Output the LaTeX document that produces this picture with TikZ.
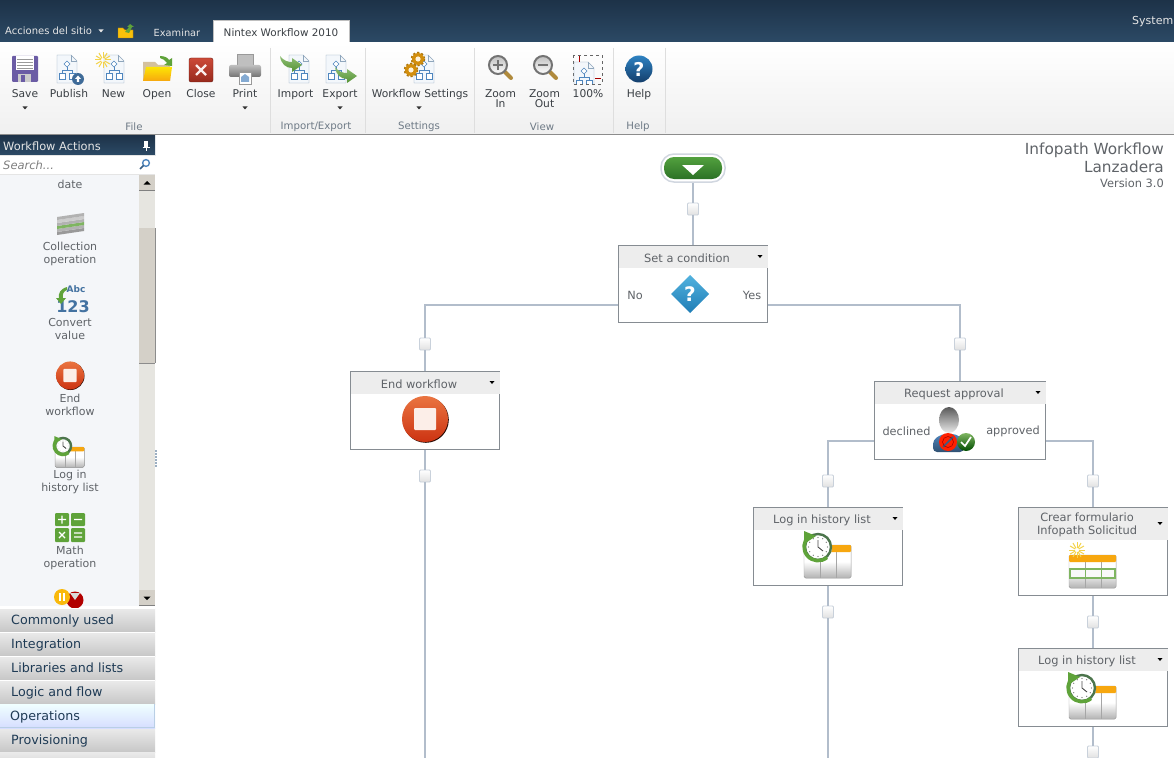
\documentclass[tikz,border=0pt]{standalone}
\usepackage{fontspec}
\setmainfont{DejaVu Sans}
\usetikzlibrary{calc}

\definecolor{barTop}{HTML}{1D3248}
\definecolor{barBot}{HTML}{2C4A66}
\definecolor{wireCol}{HTML}{B2BDCB}
\definecolor{boxLine}{HTML}{868C92}
\definecolor{headCol}{HTML}{EDEDED}
\definecolor{txtCol}{HTML}{5F6368}
\definecolor{ribbonTxt}{HTML}{3A3F44}
\definecolor{groupTxt}{HTML}{6E7A86}
\definecolor{panelCol}{HTML}{F4F6F9}
\definecolor{thumbCol}{HTML}{D4D0C8}
\definecolor{hatchCol}{HTML}{E6E5E0}
\definecolor{flowBlue}{HTML}{4F86BE}
\definecolor{docLine}{HTML}{8FA6BC}
\definecolor{docFill}{HTML}{F3F7FB}
\definecolor{arrowGreen}{HTML}{5FA33A}
\definecolor{orangeCol}{HTML}{F7A70F}
\definecolor{sunCol}{HTML}{F3D34A}
\definecolor{stopHi}{HTML}{EA7440}
\definecolor{stopLo}{HTML}{CC3312}
\definecolor{btnTxt}{HTML}{1F3B55}
\definecolor{diskCol}{HTML}{6B5CA5}
\definecolor{closeHi}{HTML}{CC4A38}
\definecolor{closeLo}{HTML}{98291C}
\definecolor{handleCol}{HTML}{B08A3C}
\definecolor{startHi}{HTML}{52A03E}
\definecolor{startLo}{HTML}{2C7226}
\definecolor{helpHi}{HTML}{2F82C2}
\definecolor{helpLo}{HTML}{143E6B}
\definecolor{diaHi}{HTML}{52B2DE}
\definecolor{diaLo}{HTML}{1F7DB6}

\tikzset{
  uitext/.style={inner sep=0pt, font=\fontsize{11}{13}\selectfont,
    execute at begin node=\rule{0pt}{9pt}, execute at end node=\rule[-1pt]{0pt}{1pt}},
  ribbonlabel/.style={uitext, text=ribbonTxt, align=center, font=\fontsize{10.7}{10}\selectfont},
  grouplabel/.style={uitext, text=groupTxt, font=\fontsize{10.2}{12}\selectfont},
  panellabel/.style={uitext, text=txtCol, align=center},
  wftitle/.style={uitext, text=txtCol, align=center, font=\fontsize{11.4}{13}\selectfont},
  wfside/.style={uitext, text=txtCol, font=\fontsize{11.3}{13}\selectfont},
  btnlabel/.style={uitext, text=btnTxt, anchor=west, font=\fontsize{12.7}{14}\selectfont},
  wire/.style={draw=wireCol, line width=2pt},
  wfnode/.style={draw=boxLine, fill=white, line width=1pt, inner sep=0pt},
  addbox/.style={draw=wireCol!70, top color=white, bottom color=black!12, rounded corners=1pt,
    minimum width=11pt, minimum height=12pt, inner sep=0pt, line width=.8pt},
  % small icons
  flowdoc/.pic={
    \fill[docFill, draw=docLine] (-10,-14) -- (4,-14) -- (10,-8) -- (10,14) -- (-10,14) -- cycle;
    \draw[docLine] (4,-14) -- (4,-8) -- (10,-8);
    \draw[flowBlue] (0,-2) -- (0,1) (-5,4) -- (-5,1) -- (5,1) -- (5,4);
    \draw[flowBlue, fill=white] (0,-8) -- (3,-5) -- (0,-2) -- (-3,-5) -- cycle;
    \draw[flowBlue, fill=white] (-8,4) rectangle (-2,10);
    \draw[flowBlue, fill=white] (2,4) rectangle (8,10);
  },
  sunburst/.pic={
    \foreach \a in {0,30,...,330} \draw[sunCol, line width=1pt] (\a:2) -- (\a:8);
  },
  bentarrow/.pic={
    \shade[top color=arrowGreen!70, bottom color=arrowGreen!90!black]
      (0,0) .. controls (4,5) and (8,6) .. (12,6) -- (12,2) -- (22,9) -- (12,16) -- (12,12)
      .. controls (6,12) and (1,8) .. (0,0) -- cycle;
  },
  gear/.pic={
    \draw[orangeCol!70!black, line width=2.5pt, dash pattern=on 2pt off 1.9pt] (0,0) circle[radius=6];
    \fill[orangeCol!85!black] (0,0) circle[radius=6];
    \fill[white!85!orangeCol] (0,0) circle[radius=2.6];
  },
  magnify/.pic={
    \draw[line width=4pt, draw=handleCol, line cap=round] (6,6) -- (13,13);
    \fill[top color=black!25, bottom color=white, draw=black!55, line width=2pt] (0,0) circle[radius=9];
  },
  stopicon/.pic={
    \fill[black!80!stopLo] (.8,.8) circle[radius=23];
    \shade[top color=stopHi, bottom color=stopLo] (0,0) circle[radius=23];
    \fill[white!88!stopHi, rounded corners=1pt] (-11,-11) rectangle (11,11);
  },
  listtable/.pic={
    \fill[top color=white, bottom color=black!30, middle color=white, draw=black!35, rounded corners=1.5pt] (-24,0) rectangle (23,33);
    \draw[black!35] (-8,4) -- (-8,33) (8,4) -- (8,33);
    \fill[orangeCol, rounded corners=1pt] (-24,0) rectangle (23,7);
  },
  clockicon/.pic={
    \fill[white] (0,0) circle[radius=14];
    \draw[black!60!green!40!gray, line width=2.4pt] (0,0) circle[radius=13];
    \draw[arrowGreen, line width=3.5pt] (-9,-11) arc[start angle=-130, end angle=-310, radius=14];
    \fill[arrowGreen] (-14,-16) -- (-14,-3) -- (-2,-11) -- cycle;
    \draw[black!70, line width=.9pt] (0,-7) -- (0,0) -- (5,4);
    \foreach \a in {0,30,...,330} \fill[black!60] (\a:9.5) circle[radius=.6];
  },
}

\newcommand{\wfbox}[7]{% name, centre x, centre y, width, height, header height, title
  \node[wfnode, minimum width=#4pt-1pt, minimum height=#5pt-1pt] (#1) at (#2,#3) {};
  \fill[headCol] ($(#1.north west)+(.5,.5)$) rectangle ($(#1.north east)+(-.5,#6)$);
  \node[wftitle] (#1title) at ($(#1.north)+(-6,#6/2+1.5)$) {#7};
  \fill[black] ($(#1.north east)+(-10.5,#6/2-1.5)$) -- ++(5,0) -- ++(-2.5,3) -- cycle;
}
\newcommand{\droparrow}[2]{\fill[black!80] (#1-2.5,#2-1.5) -- ++(5,0) -- ++(-2.5,3) -- cycle;}

\begin{document}
\begin{tikzpicture}[x=1pt,y=-1pt]
  \clip (0,0) rectangle (1174,757);
  \fill[white] (0,0) rectangle (1174,757);

  % Top bar
  \shade[top color=barTop, bottom color=barBot] (0,0) rectangle (1174,43);
  \fill[white] (213,20) rectangle (349,44);
  \draw[black!25] (213,43) -- (213,20) -- (349,20) -- (349,43);
  \node[uitext, text=white!90!black, anchor=west, font=\fontsize{10}{12}\selectfont] (sitemenu) at (5,31) {Acciones del sitio};
  \fill[white!90!black] (98.5,29.5) -- ++(5,0) -- ++(-2.5,3) -- cycle;
  \fill[orangeCol!70!yellow, draw=orangeCol!70!black] (118,28) -- (123,28) -- (125,30) -- (133,30) -- (133,38) -- (118,38) -- cycle;
  \fill[arrowGreen] (125,32) -- (129,27) -- (127,27) -- (130,24) -- (134,27) -- (132,27) -- (129,33) -- cycle;
  \node[uitext, text=white!90!black, font=\fontsize{9.8}{12}\selectfont] (browsetab) at (177,33) {Examinar};
  \node[uitext, text=ribbonTxt, font=\fontsize{10.4}{12}\selectfont] (nintextab) at (281,33) {Nintex Workflow 2010};
  \node[uitext, text=white!90!black, anchor=west] (sysuser) at (1132,21) {System};

  % Ribbon
  \shade[top color=white, bottom color=black!6] (0,43) rectangle (1174,134);
  \fill[black!45] (0,134) rectangle (1174,135);
  \foreach \x in {270,365,474,613,665} \draw[black!13] (\x,48) -- (\x,133);
  \foreach \x/\y/\lab/\id in {25/94/Save/save, 69/94/Publish/publish, 113.5/94/New/new, 157/94/Open/open,
      201/94/Close/close, 245/94/Print/print, 295.5/94/Import/import, 340/94/Export/export,
      420/94/Workflow Settings/settings, 500.5/99/Zoom\\In/zoomin, 544.5/99/Zoom\\Out/zoomout,
      588/94/100\%/full, 639/94/Help/help}
    \node[ribbonlabel] (lab\id) at (\x,\y) {\lab};
  \foreach \x/\lab/\id in {134/File/file, 316/{Import/Export}/impexp, 419/Settings/setgroup, 542/View/view, 638/Help/helpgroup}
    \node[grouplabel] (group\id) at (\x,126) {\lab};
  \droparrow{25}{108}
  \droparrow{245}{108}
  \droparrow{340}{108}
  \droparrow{419}{108}

  % Ribbon icons
  \fill[diskCol, rounded corners=1pt] (12,56) rectangle (38,82);
  \fill[white] (16,56) rectangle (34,70);
  \foreach \y in {59,62,65,68} \draw[black!40, line width=.6pt] (17,\y) -- (33,\y);
  \fill[black!20] (18,74) rectangle (31,82);
  \fill[diskCol] (21,75) rectangle (25,82);
  \pic at (67,69) {flowdoc};
  \fill[flowBlue!80!black] (78,79) circle[radius=6];
  \fill[white] (78,75.5) -- (81,79) -- (79.2,79) -- (79.2,82) -- (76.8,82) -- (76.8,79) -- (75,79) -- cycle;
  \pic at (114,69) {flowdoc};
  \pic at (103,60) {sunburst};
  \fill[orangeCol!60!black!40] (143,62) -- (155,62) -- (158,65) -- (170,65) -- (170,81) -- (143,81) -- cycle;
  \shade[top color=yellow!70!orangeCol, bottom color=orangeCol] (143,81) -- (146,67) -- (172,67) -- (170,81) -- cycle;
  \fill[arrowGreen] (160,56) .. controls (165,56) and (168,58) .. (169,60) -- (172,58) -- (172,66) -- (164,65) -- (167,63) .. controls (165,60) and (163,59) .. (160,58) -- cycle;
  \shade[top color=closeHi, bottom color=closeLo, rounded corners=2pt, draw=closeLo!70!black] (189,58) rectangle (213,82);
  \draw[white!90!closeHi, line width=2.4pt] (196,65) -- (206,75) (206,65) -- (196,75);
  \fill[black!25, draw=black!40] (237,54) rectangle (253,66);
  \shade[top color=black!25, bottom color=black!55, rounded corners=2pt] (229,65) rectangle (261,77);
  \fill[white, draw=black!40] (239,72) rectangle (251,84);
  \fill[flowBlue!70] (241,77) -- (245,74) -- (249,77) -- (249,82) -- (241,82) -- cycle;
  \pic at (299,69) {flowdoc};
  \pic at (280,56) {bentarrow};
  \pic at (336,69) {flowdoc};
  \pic at (335,67) {bentarrow};
  \pic at (424,69) {flowdoc};
  \pic at (418,59) {gear};
  \pic at (411,70) {gear};
  \pic at (498,65) {magnify};
  \fill[black!55] (493,64) rectangle (503,66.5);
  \fill[black!55] (496.7,60) rectangle (499.3,70);
  \pic at (543,65) {magnify};
  \fill[black!55] (538,64) rectangle (548,66.5);
  \draw[black!60, dashed, line width=.7pt] (573,55) rectangle (602,84);
  \begin{scope}
    \clip (573,60) rectangle (595,84);
    \pic at (584,76) {flowdoc};
  \end{scope}
  \draw[red!65!black, line width=.9pt] (579,56) -- (579,62) (595,78) -- (601,78);
  \shade[top color=helpHi, bottom color=helpLo] (639,69) circle[radius=13.5];
  \node[inner sep=0pt, text=white, font=\fontsize{19}{19}\bfseries\selectfont] (helpmark) at (639,69) {?};

  % Side panel
  \fill[panelCol] (0,175) rectangle (155,606);
  \shade[top color=barTop, bottom color=barBot] (0,135) rectangle (155,155);
  \node[uitext, text=white!90!black, anchor=west, font=\fontsize{11.4}{13}\selectfont] (paneltitle) at (3,146) {Workflow Actions};
  \fill[white] (144,141) rectangle (148,147);
  \draw[white] (146,147) -- (146,151) (142.5,147) -- (149.5,147);
  \fill[white] (0,155) rectangle (155,175);
  \draw[black!10] (0,155.5) -- (155,155.5) (0,174.5) -- (155,174.5);
  \node[uitext, text=black!50, anchor=west, font=\fontsize{11.5}{13}\itshape\selectfont] (searchbox) at (3,165) {Search...};
  \draw[flowBlue, line width=1.4pt] (146,163) circle[radius=3.4];
  \draw[flowBlue!70!black, line width=1.6pt] (143.5,165.5) -- (140,169);
  % Scroll bar
  \fill[hatchCol] (139,175) rectangle (155,606);
  \fill[thumbCol] (139,228) rectangle (155,363);
  \draw[black!45] (139,363.5) -- (155,363.5) (155,228) -- (155,363);
  \fill[thumbCol] (139,175) rectangle (155,191);
  \fill[thumbCol] (139,590) rectangle (155,606);
  \draw[black!50] (139,190.5) -- (155,190.5) (139,605.5) -- (155,605.5);
  \fill[black] (143.5,184.5) -- ++(7,0) -- ++(-3.5,-3.5) -- cycle;
  \fill[black] (143.5,596.5) -- ++(7,0) -- ++(-3.5,3.5) -- cycle;
  \foreach \y in {451,454,...,466} \fill[flowBlue!70!black] (156,\y) circle[radius=.8];
  % Panel items
  \foreach \y/\lab/\id in {184/date/date, 253.5/Collection\\operation/collect, 329.5/Convert\\value/convert,
      405.5/End\\workflow/endact, 481.5/Log in\\history list/logact, 557.5/Math\\operation/mathact}
    \node[panellabel] (item\id) at (70,\y) {\lab};
  \foreach \y/\c in {232/black!40, 229/black!30, 226/arrowGreen!80, 223/black!30, 220/black!20, 217/black!30}
    \fill[\c] (57,\y) -- (84,\y-4) -- (84,\y-1) -- (57,\y+3) -- cycle;
  \node[inner sep=0pt, text=flowBlue!85!black, font=\fontsize{9}{9}\bfseries\selectfont] (abcmark) at (76,289) {Abc};
  \node[inner sep=0pt, text=flowBlue!85!black, font=\fontsize{16}{16}\bfseries\selectfont] (numbermark) at (73,307) {123};
  \fill[arrowGreen] (67,287) .. controls (60,289) and (58,294) .. (59,298) -- (56,298) -- (61,304) -- (66,298) -- (63,298) .. controls (62,294) and (64,291) .. (67,290) -- cycle;
  \pic[scale=.61] at (70,375.5) {stopicon};
  \pic[scale=.62] at (70,447) {listtable};
  \pic[scale=.62] at (63,446) {clockicon};
  \fill[arrowGreen, rounded corners=1pt] (55,513) rectangle (69,526);
  \fill[arrowGreen, rounded corners=1pt] (71,513) rectangle (85,526);
  \fill[arrowGreen, rounded corners=1pt] (55,528) rectangle (69,542);
  \fill[arrowGreen, rounded corners=1pt] (71,528) rectangle (85,542);
  \draw[white, line width=1.4pt] (58,519.5) -- (66,519.5) (62,515.5) -- (62,523.5) (74,519.5) -- (82,519.5)
    (59,532) -- (65,538) (65,532) -- (59,538) (74,533) -- (82,533) (74,537) -- (82,537);
  \fill[red!70!black] (75,600) circle[radius=8.5];
  \fill[white!85!black] (75,600) -- (70,593) -- (80,593) -- cycle;
  \fill[orangeCol!80!yellow] (62,597) circle[radius=8];
  \fill[white] (59,593) rectangle (61,601);
  \fill[white] (63,593) rectangle (65,601);

  % Category buttons
  \foreach \y/\lab/\id in {608/Commonly used/common, 632/Integration/integ, 656/Libraries and lists/libs,
      680/Logic and flow/logic, 728/Provisioning/prov} {
    \shade[top color=black!8, bottom color=black!22] (0,\y) rectangle (155,\y+24);
    \draw[white] (0,\y+.5) -- (155,\y+.5);
    \node[btnlabel] (btn\id) at (11,\y+12.5) {\lab};
  }
  \shade[top color=cyan!6, bottom color=cyan!18!blue!16] (0,704) rectangle (155,728);
  \draw[flowBlue!40] (0,727.5) -- (155,727.5) (154.5,704) -- (154.5,728);
  \node[btnlabel] (btnoper) at (10,716.5) {Operations};
  \shade[top color=black!8, bottom color=black!22] (0,752) rectangle (155,776);

  % Title of the workflow
  \node[uitext, text=txtCol, anchor=east, font=\fontsize{15.3}{16}\selectfont] (wfname) at (1164,150) {Infopath Workflow};
  \node[uitext, text=txtCol, anchor=east, font=\fontsize{15.3}{16}\selectfont] (wfname2) at (1164,167) {Lanzadera};
  \node[uitext, text=txtCol, anchor=east, font=\fontsize{11.4}{12}\selectfont] (wfversion) at (1164,183) {Version 3.0};

  % Start node
  \node[draw=wireCol!60, line width=1.5pt, fill=white, rounded corners=13pt, minimum width=64pt, minimum height=28pt, inner sep=0pt] (start) at (693,168) {};
  \shade[top color=startHi, bottom color=startLo, rounded corners=10pt] (664,157) rectangle (722,179);
  \fill[white] (682,165) -- (704,165) -- (693,175) -- cycle;

  % Workflow boxes
  \wfbox{cond}{693}{284}{150}{78}{23}{Set a condition}
  \wfbox{endwf}{425}{410.5}{150}{79}{23}{End workflow}
  \wfbox{approval}{960}{420.5}{172}{79}{23}{Request approval}
  \wfbox{loglist}{828}{546.5}{150}{79}{23}{Log in history list}
  \wfbox{crear}{1093}{551.5}{150}{89}{33}{Crear formulario\\Infopath Solicitud}
  \wfbox{loglisttwo}{1093}{687.5}{150}{79}{23}{Log in history list}

  \node[wfside] (condno) at (635,295) {No};
  \node[wfside] (condyes) at (752,295) {Yes};
  \node[wfside] (appdeclined) at (906.5,431) {declined};
  \node[wfside] (appapproved) at (1013,431) {approved};

  % Add action squares
  \node[addbox] (add1) at (693,209) {};
  \node[addbox] (add2) at (425,344) {};
  \node[addbox] (add3) at (960,344) {};
  \node[addbox] (add4) at (425,476) {};
  \node[addbox] (add5) at (828,481) {};
  \node[addbox] (add6) at (1093,481) {};
  \node[addbox] (add7) at (828,612) {};
  \node[addbox] (add8) at (1093,622) {};
  \node[addbox] (add9) at (1093,752) {};

  % Free ends
  \coordinate (condleft) at (618,305);
  \coordinate (condright) at (768,305);
  \coordinate (appleft) at (874,441);
  \coordinate (appright) at (1046,441);
  \coordinate (endA) at (425,760);
  \coordinate (endB) at (828,760);

  % Connectors
  \draw[wire] (start) -- (add1);
  \draw[wire] (add1) -- (cond);
  \draw[wire] (condleft) -| (add2);
  \draw[wire] (condright) -| (add3);
  \draw[wire] (add2) -- (endwf);
  \draw[wire] (add3) -- (approval);
  \draw[wire] (endwf) -- (add4);
  \draw[wire] (add4) -- (endA);
  \draw[wire] (appleft) -| (add5);
  \draw[wire] (appright) -| (add6);
  \draw[wire] (add5) -- (loglist);
  \draw[wire] (add6) -- (crear);
  \draw[wire] (loglist) -- (add7);
  \draw[wire] (add7) -- (endB);
  \draw[wire] (crear) -- (add8);
  \draw[wire] (add8) -- (loglisttwo);
  \draw[wire] (loglisttwo) -- (add9);

  % Icons in the boxes
  \shade[top color=diaHi, bottom color=diaLo] (690,275) -- (709,294) -- (690,313) -- (671,294) -- cycle;
  \node[inner sep=0pt, text=white, font=\fontsize{20}{20}\bfseries\selectfont] (condmark) at (690,294) {?};
  \pic at (425,419) {stopicon};
  % person with the two badges
  \shade[top color=flowBlue, bottom color=flowBlue!60!black, rounded corners=4pt] (933,452) -- (933,440) -- (942,434) -- (956,434) -- (964,440) -- (964,452) -- cycle;
  \shade[top color=black!65, bottom color=black!8] (949,420) ellipse[x radius=10, y radius=13];
  \fill[red!75!orange] (948,442) circle[radius=9];
  \draw[flowBlue!70!black, line width=1.6pt] (943,447) -- (953,437);
  \draw[red!60!black, line width=.5pt] (948,442) circle[radius=5.5];
  \shade[top color=arrowGreen!80, bottom color=green!30!black] (966,442) circle[radius=9];
  \draw[white, line width=1.7pt] (961,442) -- (965,446) -- (971,437);
  % list and clock
  \pic at (828,545) {listtable};
  \pic at (818,547) {clockicon};
  \pic at (1093,555) {listtable};
  \fill[white!75!black!10] (1070,569) rectangle (1115,578);
  \draw[arrowGreen!80, line width=1.2pt] (1070,569) rectangle (1115,578);
  \draw[arrowGreen!80] (1085,569) -- (1085,578) (1101,569) -- (1101,578);
  \pic at (1077,550) {sunburst};
  \pic at (1093,686) {listtable};
  \pic at (1082,688) {clockicon};
\end{tikzpicture}
\end{document}
